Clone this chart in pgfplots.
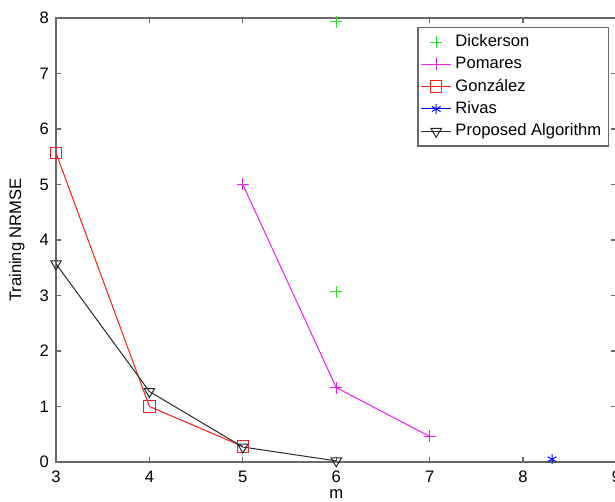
\documentclass[border=0pt]{standalone}
\usepackage{pgfplots}
\pgfplotsset{compat=1.18}
\usepackage{fontspec}
\setmainfont{Liberation Sans}
\definecolor{cgreen}{RGB}{40,225,40}
\definecolor{cmag}{RGB}{235,30,235}
\definecolor{cred}{RGB}{240,30,30}
\definecolor{cblue}{RGB}{0,0,255}
\definecolor{cblack}{RGB}{40,40,40}
\definecolor{caxis}{RGB}{105,105,105}
\begin{document}
\begin{tikzpicture}
\begin{axis}[
  at={(0pt,0pt)}, anchor=south west,
  scale only axis, width=280.25pt, height=222pt,
  xmin=3, xmax=9, ymin=0, ymax=8,
  xtick={3,4,5,6,7,8,9}, ytick={0,1,2,3,4,5,6,7,8},
  tick align=inside, major tick length=2.5pt,
  axis line style={caxis, line width=0.7pt},
  tick style={caxis, line width=0.6pt},
  font=\fontsize{8.3}{10}\selectfont,
  /pgf/number format/assume math mode=true,
  xticklabel style={yshift=-1pt},
  xlabel={m},
  xlabel style={at={(axis description cs:0.5,0)}, anchor=north, inner sep=0pt, yshift=-13.5pt},
  ylabel={Training NRMSE},
  ylabel style={at={(axis description cs:-0.0553,0.5)}, anchor=south, inner sep=0pt, rotate=0},
  legend cell align=left,
  legend style={at={(0.9866,0.98)}, anchor=north east, draw=caxis, line width=0.7pt,
    font=\fontsize{8.3}{10}\selectfont, inner sep=1.5pt, row sep=-0.3pt},
  legend image code/.code={\draw[mark repeat=2,mark phase=2] plot coordinates {(0cm,0cm) (0.26cm,0cm) (0.52cm,0cm)};},
  every axis plot/.append style={line width=0.5pt},
]
\addplot[only marks, color=cgreen, mark=+, mark size=3pt] coordinates {(6,7.93) (6,3.07)};
\addlegendentry{Dickerson}
\addplot[color=cmag, mark=+, mark size=3pt] coordinates {(5,5.0) (6,1.34) (7,0.46)};
\addlegendentry{Pomares}
\addplot[color=cred, mark=square, mark size=2.8pt] coordinates {(3,5.57) (4,1.0) (5,0.28)};
\addlegendentry{González}
\addplot[color=cblue, mark=asterisk, mark size=2.5pt] coordinates {(8.31,0.05)};
\addlegendentry{Rivas}
\addplot[color=cblack, mark=triangle, mark size=3pt, mark options={rotate=180, fill=white}] coordinates {(3,3.57) (4,1.27) (5,0.27) (6,0.02)};
\addlegendentry{Proposed Algorithm}
\end{axis}
\pgfresetboundingbox
\useasboundingbox (-28pt,-20pt) rectangle (279.5pt,231pt);
\end{tikzpicture}
\end{document}
